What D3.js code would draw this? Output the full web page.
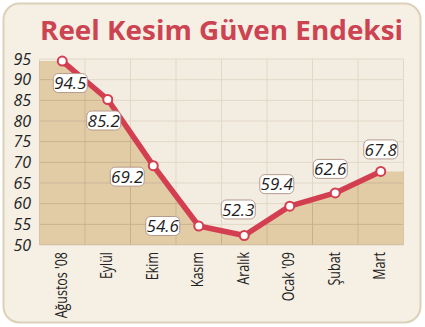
<!DOCTYPE html>
<html>
<head>
<meta charset="utf-8">
<script src="https://cdn.jsdelivr.net/npm/d3@7"></script>
<style>
  html, body { margin: 0; padding: 0; background: #ffffff; }
  svg { display: block; }
</style>
</head>
<body>
<script>
// Monthly real-sector confidence index
const months = ["Ağustos '08", "Eylül", "Ekim", "Kasım", "Aralık", "Ocak '09", "Şubat", "Mart"];
const values = [94.5, 85.2, 69.2, 54.6, 52.3, 59.4, 62.6, 67.8];
const yTicks = [50, 55, 60, 65, 70, 75, 80, 85, 90, 95];
const title = "Reel Kesim Güven Endeksi";
// where each value badge sits relative to its point (dx, dy)
const badgeOffsets = [[8, 22], [-4, 21], [-26, 11], [-36, 0], [-6, -26], [-13, -22], [-5, -24], [0, -22]];

const W = 425, H = 327;
const plot = { left: 39.5, right: 403.5, top: 59, bottom: 245 };

const svg = d3.select("body").append("svg").attr("width", W).attr("height", H);

// rounded card
svg.append("rect")
  .attr("x", 3.5).attr("y", 3.5).attr("width", 417).attr("height", 319)
  .attr("rx", 16).attr("ry", 16)
  .attr("fill", "#f5efe4").attr("stroke", "#dcd1b8").attr("stroke-width", 2);

svg.append("text")
  .attr("x", 40).attr("y", 40)
  .attr("font-family", "'Open Sans', sans-serif")
  .attr("font-weight", 700)
  .attr("font-size", 26.5)
  .attr("fill", "#cc4352")
  .attr("textLength", 363)
  .attr("lengthAdjust", "spacingAndGlyphs")
  .text(title);

const x = d3.scaleBand().domain(months).range([plot.left, plot.right]).padding(0);
const y = d3.scaleLinear().domain([50, 95]).range([plot.bottom, plot.top]);
const cx = m => x(m) + x.bandwidth() / 2;

// plot background
svg.append("rect")
  .attr("x", plot.left).attr("y", plot.top)
  .attr("width", plot.right - plot.left).attr("height", plot.bottom - plot.top)
  .attr("fill", "#f3ece1");

// shaded area under the line, held flat out to both edges
const areaPts = [[plot.left, values[0]]]
  .concat(months.map((m, i) => [cx(m), values[i]]))
  .concat([[plot.right, values[values.length - 1]]]);
const area = d3.area().x(d => d[0]).y0(plot.bottom).y1(d => y(d[1]));
svg.append("path").datum(areaPts).attr("d", area).attr("fill", "#e2cca5");
svg.append("clipPath").attr("id", "under").append("path").datum(areaPts).attr("d", area);

// grid: light over the plain background, darker inside the shaded area
function grid(g, color) {
  g.selectAll("line.h").data(yTicks).join("line")
    .attr("x1", plot.left).attr("x2", plot.right)
    .attr("y1", d => y(d)).attr("y2", d => y(d))
    .attr("stroke", color).attr("stroke-width", 1);
  const xs = months.map(m => x(m)).concat([plot.right]);
  g.selectAll("line.v").data(xs).join("line")
    .attr("x1", d => d).attr("x2", d => d)
    .attr("y1", plot.top).attr("y2", plot.bottom)
    .attr("stroke", color).attr("stroke-width", 1);
}
grid(svg.append("g"), "#e2d8c7");
grid(svg.append("g").attr("clip-path", "url(#under)"), "#c9b08a");

// y-axis labels
svg.append("g").selectAll("text").data(yTicks).join("text")
  .attr("x", 31).attr("y", d => y(d))
  .attr("dy", "0.35em")
  .attr("text-anchor", "end")
  .attr("font-family", "'Liberation Sans Narrow', 'Open Sans', sans-serif")
  .attr("font-style", "italic")
  .attr("font-size", 16)
  .attr("fill", "#222")
  .text(d => d);

// x-axis labels, rotated and condensed
svg.append("g").selectAll("text").data(months).join("text")
  .attr("transform", m => `translate(${cx(m) + 4.5},${plot.bottom + 7}) rotate(-90) scale(0.78,1)`)
  .attr("text-anchor", "end")
  .attr("font-family", "'Liberation Sans Narrow', 'Open Sans', sans-serif")
  .attr("font-size", 16)
  .attr("fill", "#222")
  .text(m => m);

// line
const line = d3.line().x((d, i) => cx(months[i])).y(d => y(d));
svg.append("path").datum(values).attr("d", line)
  .attr("fill", "none").attr("stroke", "#d33f50").attr("stroke-width", 5.5)
  .attr("stroke-linejoin", "round");

svg.append("g").selectAll("circle").data(values).join("circle")
  .attr("cx", (d, i) => cx(months[i])).attr("cy", d => y(d))
  .attr("r", 4.5)
  .attr("fill", "#ffffff").attr("stroke", "#d33f50").attr("stroke-width", 2);

// value badges
const badges = svg.append("g").selectAll("g").data(values).join("g")
  .attr("transform", (d, i) => `translate(${cx(months[i]) + badgeOffsets[i][0]},${y(d) + badgeOffsets[i][1]})`);
badges.append("rect")
  .attr("x", -17).attr("y", -9.5).attr("width", 34).attr("height", 19)
  .attr("rx", 5).attr("ry", 5)
  .attr("fill", "#ffffff").attr("stroke", "#b59a8c").attr("stroke-width", 1);
badges.append("text")
  .attr("text-anchor", "middle").attr("dy", "0.36em")
  .attr("font-family", "'Liberation Sans Narrow', 'Open Sans', sans-serif")
  .attr("font-style", "italic")
  .attr("font-size", 17)
  .attr("fill", "#1e1e1e")
  .text(d => d.toFixed(1));
</script>
</body>
</html>
